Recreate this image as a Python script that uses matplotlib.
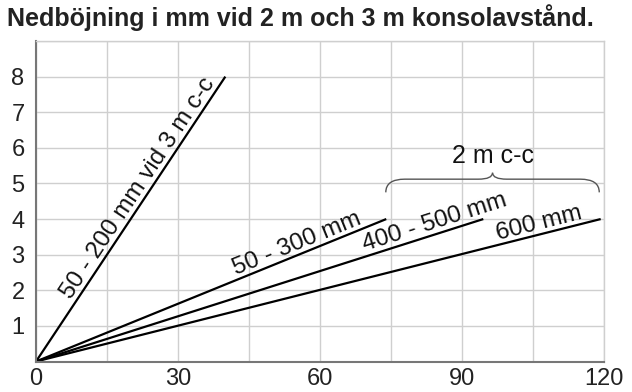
import numpy as np
import matplotlib
matplotlib.use('Agg')
import matplotlib.pyplot as plt
from matplotlib.path import Path
from matplotlib.patches import PathPatch

plt.rcParams['font.family'] = ['Liberation Sans', 'DejaVu Sans']

# ── Data ──────────────────────────────────────────────────────────────────────
TITLE = 'Nedböjning i mm vid 2 m och 3 m konsolavstånd.'

serie_namn = ['50 - 200 mm vid 3 m c-c', '50 - 300 mm', '400 - 500 mm', '600 mm']
x_slut     = [40, 74, 94.5, 119.3]     # konsolavstånd där linjen slutar
y_slut     = [8, 4, 4, 4]              # nedböjning i mm vid slutpunkt
x_etikett  = [23.5, 56, 85, 106.8]     # var längs linjen etiketten sitter

x_ticks = [0, 30, 60, 90, 120]
y_ticks = [1, 2, 3, 4, 5, 6, 7, 8]

grupp_text = '2 m c-c'
grupp_x    = [73.9, 119.0]             # klammerns utsträckning

# ── Figur ─────────────────────────────────────────────────────────────────────
fig = plt.figure(figsize=(6.32, 3.92), dpi=100)
ax = fig.add_axes([36 / 632, 1 - 361.5 / 392, 568 / 632, 320.5 / 392])
ax.set_xlim(0, 120)
ax.set_ylim(0, 9)

grid_color = '#cfcfcf'
ax.set_xticks(x_ticks, [str(v) for v in x_ticks])
ax.set_xticks(np.arange(15, 121, 30), minor=True)
ax.set_yticks(y_ticks, [str(v) for v in y_ticks])
ax.set_yticks([9], minor=True)
ax.grid(True, which='both', color=grid_color, lw=1.0)
ax.set_axisbelow(True)

ax.tick_params(axis='both', which='both', length=0, labelsize=17,
               labelcolor='#222222')
ax.tick_params(axis='x', pad=5)
ax.tick_params(axis='y', pad=13)
for lbl in ax.get_yticklabels():
    lbl.set_horizontalalignment('center')

for side in ['left', 'bottom']:
    ax.spines[side].set_color('#777777')
    ax.spines[side].set_linewidth(1.5)
for side in ['top', 'right']:
    ax.spines[side].set_color(grid_color)
    ax.spines[side].set_linewidth(1.0)

# Linjer + etiketter
for namn, xe, ye, xl in zip(serie_namn, x_slut, y_slut, x_etikett):
    ax.plot([0, xe], [0, ye], color='black', lw=1.6, solid_capstyle='butt')
    vinkel = np.degrees(np.arctan2(ye, xe))
    ax.text(xl, ye / xe * xl, namn, rotation=vinkel, rotation_mode='anchor',
            transform_rotates_text=True, ha='center', va='bottom',
            fontsize=17.5, color='#111111')

# Klammer över 2 m-grupp
x0, x1 = grupp_x
xm = (x0 + x1) / 2
yb, yf, yt = 4.75, 5.12, 5.3
codes = [Path.MOVETO, Path.CURVE3, Path.CURVE3, Path.LINETO,
         Path.LINETO, Path.CURVE3, Path.CURVE3,
         Path.CURVE3, Path.CURVE3, Path.LINETO,
         Path.LINETO, Path.CURVE3, Path.CURVE3]
verts = [(x0, yb), (x0, yf), (x0 + 4, yf), (x0 + 6, yf),
         (xm - 3, yf), (xm, yf), (xm, yt),
         (xm, yf), (xm + 3, yf), (x1 - 6, yf),
         (x1 - 4, yf), (x1, yf), (x1, yb)]
ax.add_patch(PathPatch(Path(verts, codes), facecolor='none',
                       edgecolor='#555555', lw=1.0, clip_on=False))
ax.text(xm, 5.78, grupp_text, ha='center', va='center', fontsize=18,
        color='#111111')

fig.text(7 / 632, 1 - 18 / 392, TITLE, ha='left', va='center',
         fontsize=18, fontweight='bold', color='#222222')

fig.savefig('out.png', dpi=100)
